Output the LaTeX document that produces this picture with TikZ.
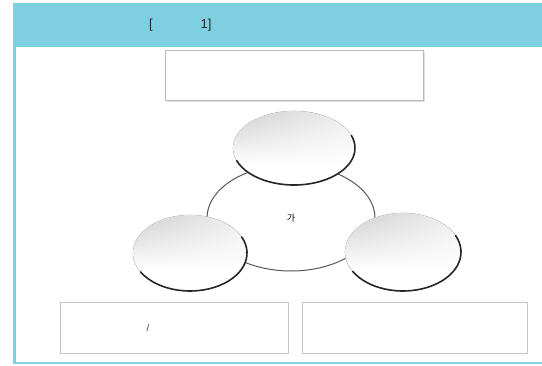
\documentclass[tikz,border=0pt]{standalone}
\usepackage{fontspec}
\setmainfont{Liberation Sans}
\newfontfamily\krfont{Noto Sans CJK KR}
\usetikzlibrary{shapes.geometric,calc,shadings}
\definecolor{hdrblue}{HTML}{7FCFE3}
\tikzset{
  x=1pt, y=1pt,
  bubble/.style={ellipse, draw=gray!55, line width=0.6pt, fill=white, inner sep=0pt},
  darkarc/.style={draw=black!85, line width=1.6pt, line cap=round},
  framebox/.style={draw=gray!55, line width=0.9pt, inner sep=0pt},
  lowbox/.style={draw=gray!45, line width=0.7pt, inner sep=0pt},
  hdrtext/.style={font=\fontsize{13}{15}\selectfont, text=black!85, inner sep=0pt},
  bubbleshade/.style={upper left=gray!38, upper right=gray!12, lower left=white, lower right=white}
}
\begin{document}
\begin{tikzpicture}
\useasboundingbox (0,0) rectangle (542,365);
% header and frame
\fill[hdrblue] (12.5,318) rectangle (542,362);
\fill[hdrblue] (12.5,1) rectangle (15.5,318);
\fill[hdrblue] (12.5,1) rectangle (542,3.5);
\node[hdrtext] (lb) at (151,340) {[};
\node[hdrtext] (one) at (206,340) {1]};
% top title box
\fill[gray!25] (167,263) rectangle (425,313);
\node[framebox, fill=white, minimum width=258pt, minimum height=50pt] (title) at (294,290) {};
% central ellipse
\node[ellipse, draw=black!65, line width=1pt, fill=white, minimum width=168pt, minimum height=106pt] (mid) at (291,147) {};
\node[inner sep=0pt, font=\krfont\fontsize{9}{10}\selectfont] (ga) at (291,147) {가};
% top ellipse
\node[bubble, minimum width=122pt, minimum height=74pt] (topc) at (294,217) {};
\begin{scope}
  \clip (294,217) ellipse [x radius=60.5, y radius=36.5];
  \shade[bubbleshade] (233,200) rectangle (355,254);
\end{scope}
\draw[darkarc] (topc.center) ++(20:61pt and 37pt) arc[start angle=20, end angle=-160, x radius=61pt, y radius=37pt];
% left ellipse
\node[bubble, minimum width=114pt, minimum height=76pt] (leftc) at (190,112) {};
\begin{scope}
  \clip (190,112) ellipse [x radius=56.5, y radius=37.5];
  \shade[bubbleshade] (133,95) rectangle (247,150);
\end{scope}
\draw[darkarc] (leftc.center) ++(25:57pt and 38pt) arc[start angle=25, end angle=-150, x radius=57pt, y radius=38pt];
% right ellipse
\node[bubble, minimum width=116pt, minimum height=78pt] (rightc) at (403,113) {};
\begin{scope}
  \clip (403,113) ellipse [x radius=57.5, y radius=38.5];
  \shade[bubbleshade] (345,95) rectangle (461,152);
\end{scope}
\draw[darkarc] (rightc.center) ++(25:58pt and 39pt) arc[start angle=25, end angle=-150, x radius=58pt, y radius=39pt];
% bottom boxes
\node[lowbox, minimum width=228pt, minimum height=51pt] (bl) at (174,37.5) {};
\node[lowbox, minimum width=225pt, minimum height=51pt] (br) at (414.5,37.5) {};
\node[inner sep=0pt, font=\fontsize{10}{12}\selectfont, text=black!75] (slash) at (148,37) {/};
\end{tikzpicture}
\end{document}
